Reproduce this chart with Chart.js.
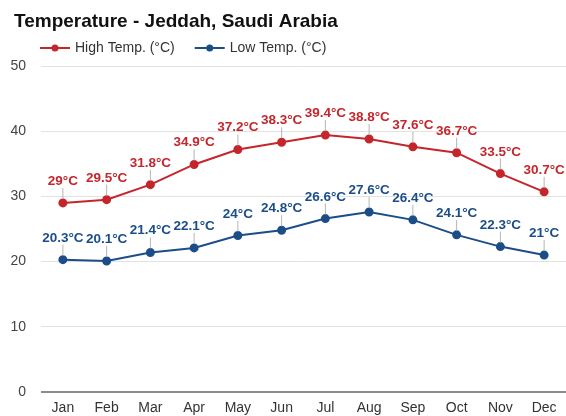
<!doctype html>
<html lang="en">
  <head>
    <meta charset="utf-8">
    <title>Temperature - Jeddah, Saudi Arabia</title>
    <script src="https://cdn.jsdelivr.net/npm/chart.js@4"></script>
    <style>
      html, body { margin: 0; padding: 0; background: #fff; overflow: hidden; }
      #frame { width: 566px; height: 416px; overflow: hidden; }
      /* canvas is 6px wider than the frame: Chart.js keeps a small right gap we crop away */
      #wrap { width: 572px; height: 416px; position: relative; }
    </style>
  </head>
  <body>
    <div id="frame"><div id="wrap"><canvas id="chart"></canvas></div></div>

    <script>
      const months = ["Jan", "Feb", "Mar", "Apr", "May", "Jun", "Jul", "Aug", "Sep", "Oct", "Nov", "Dec"];
      const highTemp = [29, 29.5, 31.8, 34.9, 37.2, 38.3, 39.4, 38.8, 37.6, 36.7, 33.5, 30.7];
      const lowTemp = [20.3, 20.1, 21.4, 22.1, 24, 24.8, 26.6, 27.6, 26.4, 24.1, 22.3, 21];
      const yTicks = [0, 10, 20, 30, 40, 50];
      const title = "Temperature - Jeddah, Saudi Arabia";

      const RED = "#c4262c";
      const BLUE = "#1b4e88";
      const FONT = "'Liberation Sans', Arial, sans-serif";

      // value labels with a short grey leader line above each point
      const pointLabels = {
        id: "pointLabels",
        afterDatasetsDraw(chart) {
          const ctx = chart.ctx;
          ctx.save();
          chart.data.datasets.forEach((ds, i) => {
            chart.getDatasetMeta(i).data.forEach((pt, j) => {
              ctx.strokeStyle = "#b5b5b5";
              ctx.lineWidth = 1;
              ctx.beginPath();
              ctx.moveTo(pt.x, pt.y - 4);
              ctx.lineTo(pt.x, pt.y - 15);
              ctx.stroke();
              ctx.fillStyle = ds.borderColor;
              ctx.font = "bold 13.5px " + FONT;
              ctx.textAlign = "center";
              ctx.textBaseline = "alphabetic";
              ctx.fillText(ds.data[j] + "°C", pt.x, pt.y - 18);
            });
          });
          ctx.restore();
        }
      };

      // title and legend drawn at fixed spots above the plot
      const header = {
        id: "header",
        afterDraw(chart) {
          const ctx = chart.ctx;
          ctx.save();
          ctx.textBaseline = "middle";
          ctx.textAlign = "left";
          ctx.fillStyle = "#111";
          ctx.font = "bold 19px " + FONT;
          ctx.fillText(title, 14, 22);

          let x = 40;
          const y = 48;
          ctx.font = "14px " + FONT;
          chart.data.datasets.forEach(ds => {
            ctx.strokeStyle = ds.borderColor;
            ctx.fillStyle = ds.borderColor;
            ctx.lineWidth = 2;
            ctx.beginPath();
            ctx.moveTo(x, y);
            ctx.lineTo(x + 30, y);
            ctx.stroke();
            ctx.beginPath();
            ctx.arc(x + 15, y, 3.5, 0, Math.PI * 2);
            ctx.fill();
            ctx.fillStyle = "#333";
            ctx.fillText(ds.label, x + 35, y);
            x += 35 + ctx.measureText(ds.label).width + 20;
          });
          ctx.restore();
        }
      };

      new Chart(document.getElementById("chart").getContext("2d"), {
        type: "line",
        data: {
          labels: months,
          datasets: [
            { label: "High Temp. (°C)", data: highTemp, borderColor: RED, backgroundColor: RED,
              borderWidth: 2, pointRadius: 3.5, pointBackgroundColor: RED, tension: 0 },
            { label: "Low Temp. (°C)", data: lowTemp, borderColor: BLUE, backgroundColor: BLUE,
              borderWidth: 2, pointRadius: 3.5, pointBackgroundColor: BLUE, tension: 0 }
          ]
        },
        options: {
          responsive: true,
          maintainAspectRatio: false,
          animation: false,
          events: [],
          layout: { padding: { left: 0, right: 0, top: 66, bottom: 0 } },
          plugins: {
            tooltip: { enabled: false },
            title: { display: false },
            legend: { display: false }
          },
          scales: {
            x: {
              offset: true,
              grid: { display: false, drawTicks: false },
              border: { display: false },
              afterFit: axis => { axis.height = 24; axis.paddingLeft = 0; axis.paddingRight = 0; },
              ticks: { color: "#333", font: { family: FONT, size: 14 }, padding: 8, maxRotation: 0 }
            },
            y: {
              min: 0,
              max: 50,
              afterBuildTicks: axis => { axis.ticks = yTicks.map(v => ({ value: v })); },
              afterFit: axis => { axis.width = 41; },
              border: { display: false },
              grid: {
                color: c => c.tick.value === 0 ? "#8c8c8c" : "#e2e2e2",
                lineWidth: c => c.tick.value === 0 ? 2 : 1,
                drawTicks: false
              },
              ticks: { color: "#444", font: { family: FONT, size: 14 }, padding: 15 }
            }
          }
        },
        plugins: [pointLabels, header]
      });
    </script>
  </body>
</html>
